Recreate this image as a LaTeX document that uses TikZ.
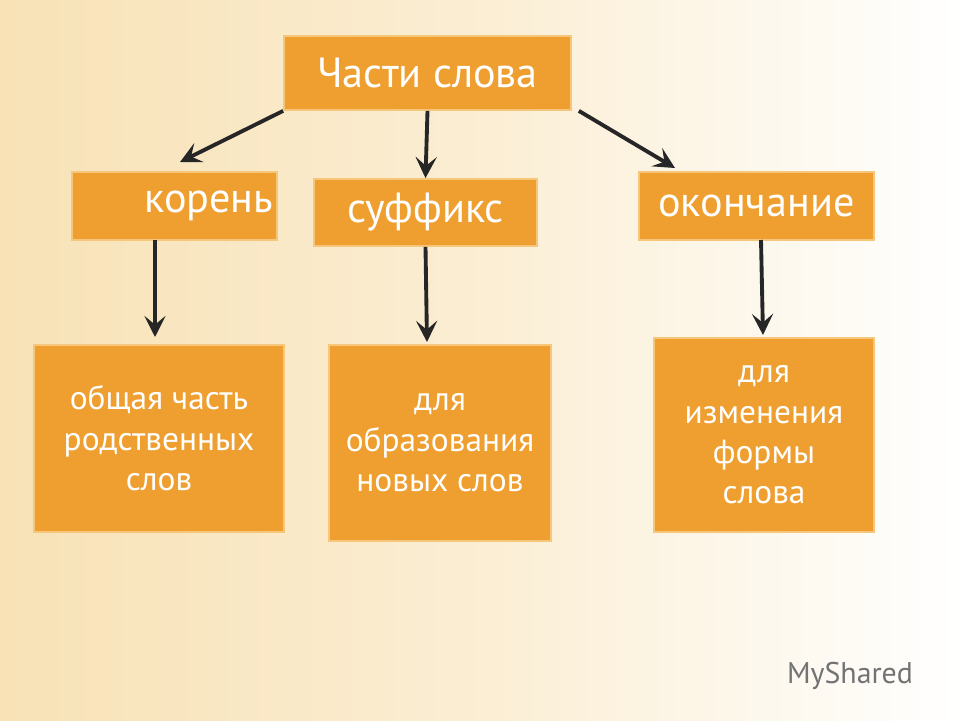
\documentclass[tikz,border=0pt]{standalone}
\usepackage{fontspec}
\setmainfont{PT Sans}
\usetikzlibrary{arrows.meta}
\definecolor{boxfill}{HTML}{EE9F30}
\definecolor{boxline}{HTML}{F6C77A}
\definecolor{bgcream}{HTML}{F8E2B6}
\tikzset{
  part/.style={draw=boxline,line width=1pt,fill=boxfill,text=white,inner sep=0pt,align=center,font=\fontsize{24}{28}\selectfont},
  note/.style={part,font=\fontsize{19}{23}\selectfont},
  link/.style={-{Stealth[length=12pt,width=12pt,inset=5pt]},line width=2.2pt,draw=black!85}
}
\begin{document}
\begin{tikzpicture}[x=0.02cm,y=-0.02cm]
% фон
\shade[left color=bgcream,right color=white,middle color=bgcream!60] (0,0) rectangle (960,720);
\useasboundingbox (0,0) rectangle (960,720);

% блоки
\node[part,minimum width=5.74cm,minimum height=1.48cm] (parts) at (427.5,73) {Части слова};
\node[part,minimum width=4.1cm,minimum height=1.36cm,text width=3.95cm,align=right] (root) at (174.5,206) {корень};
\node[part,minimum width=4.46cm,minimum height=1.34cm] (suffix) at (425.5,212.5) {суффикс};
\node[part,minimum width=4.7cm,minimum height=1.36cm] (ending) at (756.5,206) {окончание};
\node[note,minimum width=5cm,minimum height=3.74cm] (rootnote) at (159,438.5) {общая часть\\родственных\\слов};
\node[note,minimum width=4.44cm,minimum height=3.92cm] (suffixnote) at (440,443) {для\\образования\\новых слов};
\node[note,minimum width=4.4cm,minimum height=3.88cm] (endingnote) at (764,435) {для\\изменения\\формы\\слова};

% стрелки
\draw[link] (parts.south west) -- (180,162);
\draw[link] (parts.south) -- (suffix.north);
\draw[link] ([xshift=0.14cm]parts.south east) -- (675,168);
\draw[link] (155,240) -- (155,337);
\draw[link] (suffix.south) -- (427,342);
\draw[link] (761,240) -- (763,335);

% логотип
\node[text=black!55,font=\fontsize{17}{20}\selectfont] (logo) at (850,676) {MyShared};
\end{tikzpicture}
\end{document}
